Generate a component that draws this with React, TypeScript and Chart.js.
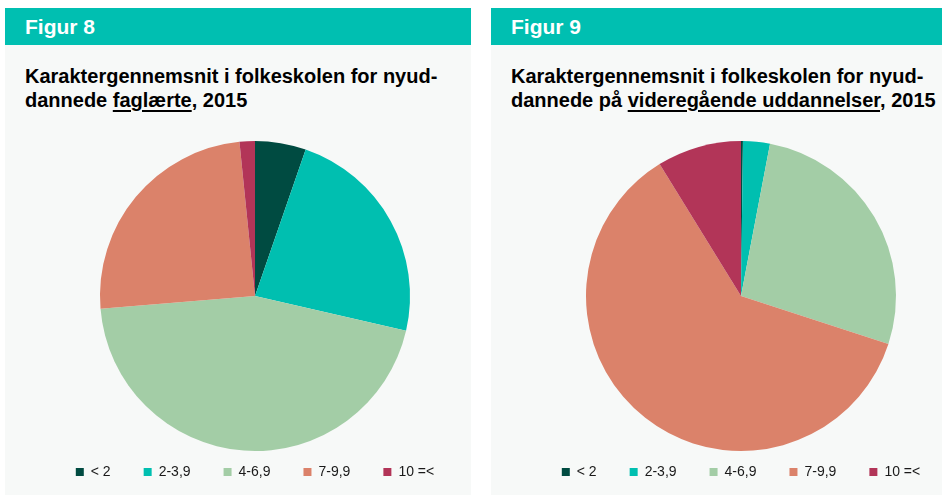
import React, { useEffect, useRef } from "react";
import { Chart, registerables } from "chart.js";

Chart.register(...registerables);

const categories = ["< 2", "2-3,9", "4-6,9", "7-9,9", "10 =<"];
const faglaerteValues = [5.3, 23.3, 45.1, 24.7, 1.6];
const videregaaendeValues = [0.2, 2.8, 27.0, 61.2, 8.8];
const sliceColors = ["#004B41", "#00BFB0", "#A3CDA6", "#DB826A", "#B23558"];

const FONT = "'Liberation Sans', Arial, Helvetica, sans-serif";
const TEAL = "#00BFB1";
const PANEL_BG = "#F7F9F8";

type PieProps = { values: number[]; left: number };

function PieChart({ values, left }: PieProps) {
  const ref = useRef<HTMLCanvasElement | null>(null);
  useEffect(() => {
    if (!ref.current) return;
    const chart = new Chart(ref.current, {
      type: "pie",
      data: {
        labels: categories,
        datasets: [
          {
            data: values,
            backgroundColor: sliceColors,
            borderWidth: 0,
            radius: 155,
          },
        ],
      },
      options: {
        responsive: false,
        animation: false,
        devicePixelRatio: 1,
        layout: { padding: { top: 30, bottom: 0, left: 0, right: 0 } },
        plugins: {
          tooltip: { enabled: false },
          legend: {
            display: true,
            position: "bottom",
            labels: {
              boxWidth: 8,
              boxHeight: 8,
              padding: 33,
              color: "#1A1A1A",
              font: { family: FONT, size: 14 },
            },
          },
        },
      },
    });
    return () => chart.destroy();
  }, [values]);
  return (
    <canvas
      ref={ref}
      width={500}
      height={359}
      style={{ position: "absolute", left, top: 130, width: 500, height: 359 }}
    />
  );
}

type PanelProps = { left: number; width: number; figure: string; line1: string; prefix: string; underlined: string; suffix: string };

function Panel({ left, width, figure, line1, prefix, underlined, suffix }: PanelProps) {
  return (
    <div style={{ position: "absolute", left, top: 8, width, height: 487, background: PANEL_BG }}>
      <div style={{ position: "absolute", left: 0, top: 0, width, height: 37, background: TEAL }}>
        <div
          style={{
            position: "absolute",
            left: 20,
            top: 7,
            color: "#FFFFFF",
            fontFamily: FONT,
            fontWeight: "bold",
            fontSize: 21,
            lineHeight: "24px",
            whiteSpace: "nowrap",
          }}
        >
          {figure}
        </div>
      </div>
      <div
        style={{
          position: "absolute",
          left: 20,
          top: 56,
          color: "#000000",
          fontFamily: FONT,
          fontWeight: "bold",
          fontSize: 20,
          lineHeight: "24px",
          whiteSpace: "nowrap",
        }}
      >
        <div>{line1}</div>
        <div>
          {prefix}
          <span style={{ textDecoration: "underline", textDecorationThickness: "2px", textUnderlineOffset: "3px" }}>
            {underlined}
          </span>
          {suffix}
        </div>
      </div>
    </div>
  );
}

export default function App() {
  return (
    <div style={{ position: "fixed", left: 0, top: 0, width: 942, height: 495, overflow: "hidden", background: "#FFFFFF" }}>
      <Panel
        left={5}
        width={466}
        figure="Figur 8"
        line1="Karaktergennemsnit i folkeskolen for nyud-"
        prefix="dannede "
        underlined="faglærte"
        suffix=", 2015"
      />
      <Panel
        left={491}
        width={451}
        figure="Figur 9"
        line1="Karaktergennemsnit i folkeskolen for nyud-"
        prefix="dannede på "
        underlined="videregående uddannelser"
        suffix=", 2015"
      />
      <PieChart values={faglaerteValues} left={4.5} />
      <PieChart values={videregaaendeValues} left={491} />
    </div>
  );
}
